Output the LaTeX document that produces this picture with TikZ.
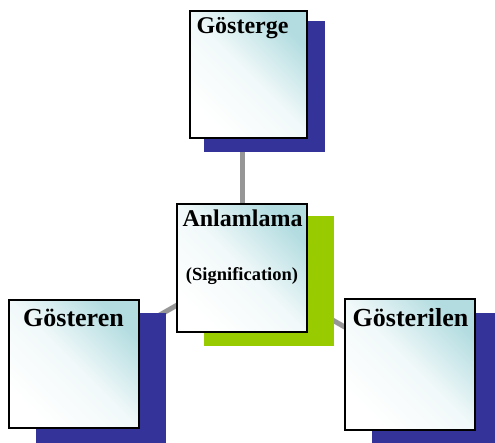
\documentclass[tikz,border=0pt]{standalone}
\usepackage{fontspec}
\setmainfont{Liberation Serif}
\usepackage{tikz}
\usetikzlibrary{backgrounds}

\definecolor{golgemavi}{RGB}{51,51,153}
\definecolor{golgeyesil}{RGB}{153,204,0}
\definecolor{kutuacik}{RGB}{178,220,224}
\definecolor{hatgri}{RGB}{150,150,150}

\tikzset{
  kutu/.style={rectangle, draw=black, line width=1.5pt, inner sep=0pt,
    minimum width=130pt, minimum height=128pt,
    top color=kutuacik, bottom color=white, middle color=kutuacik!18!white,
    shading angle=-45},
  baglanti/.style={draw=hatgri, line width=5pt},
  baslik/.style={anchor=base, inner sep=0pt, font=\fontsize{24}{28}\selectfont\bfseries},
}

\begin{document}
\begin{tikzpicture}[x=1pt,y=-1pt]
\useasboundingbox (0,0) rectangle (495,442);
\clip (0,0) rectangle (495,442);
% golgeler
\fill[golgemavi] (204,21) rectangle (325,152);
\foreach \x/\y in {36/313,372/313}
    {\fill[golgemavi] (\x,\y) rectangle (\x+130,\y+131);}
\fill[golgeyesil] (204,216) rectangle (334,346);
% kutular
\node[kutu, minimum width=117pt, minimum height=127pt] (gosterge) at (248.5,74.5) {};
\node[kutu] (anlam) at (242,268) {};
\node[kutu] (gosteren) at (74,364) {};
\node[kutu, minimum height=131pt] (gosterilen) at (410,364.5) {};
% yazilar
\node[baslik] (gostergeyazi) at (242.5,33) {Gösterge};
\node[baslik] (anlamyazi) at (242.5,226) {Anlamlama};
\node[baslik, font=\fontsize{18.5}{22}\selectfont\bfseries] (anlamalt) at (242,280) {(Signification)};
\node[baslik, font=\fontsize{26}{30}\selectfont\bfseries] (gosterenyazi) at (73.5,326) {Gösteren};
\node[baslik, font=\fontsize{26}{30}\selectfont\bfseries] (gosterilenyazi) at (410.5,326) {Gösterilen};
% baglantilar
\begin{scope}[on background layer]
\draw[baglanti] (anlam.center) -- (anlam.center |- gosterge.center);
\draw[baglanti] (anlam.center) -- (gosteren.center);
\draw[baglanti] (anlam.center) -- (gosterilen.center);
\end{scope}
\end{tikzpicture}
\end{document}
